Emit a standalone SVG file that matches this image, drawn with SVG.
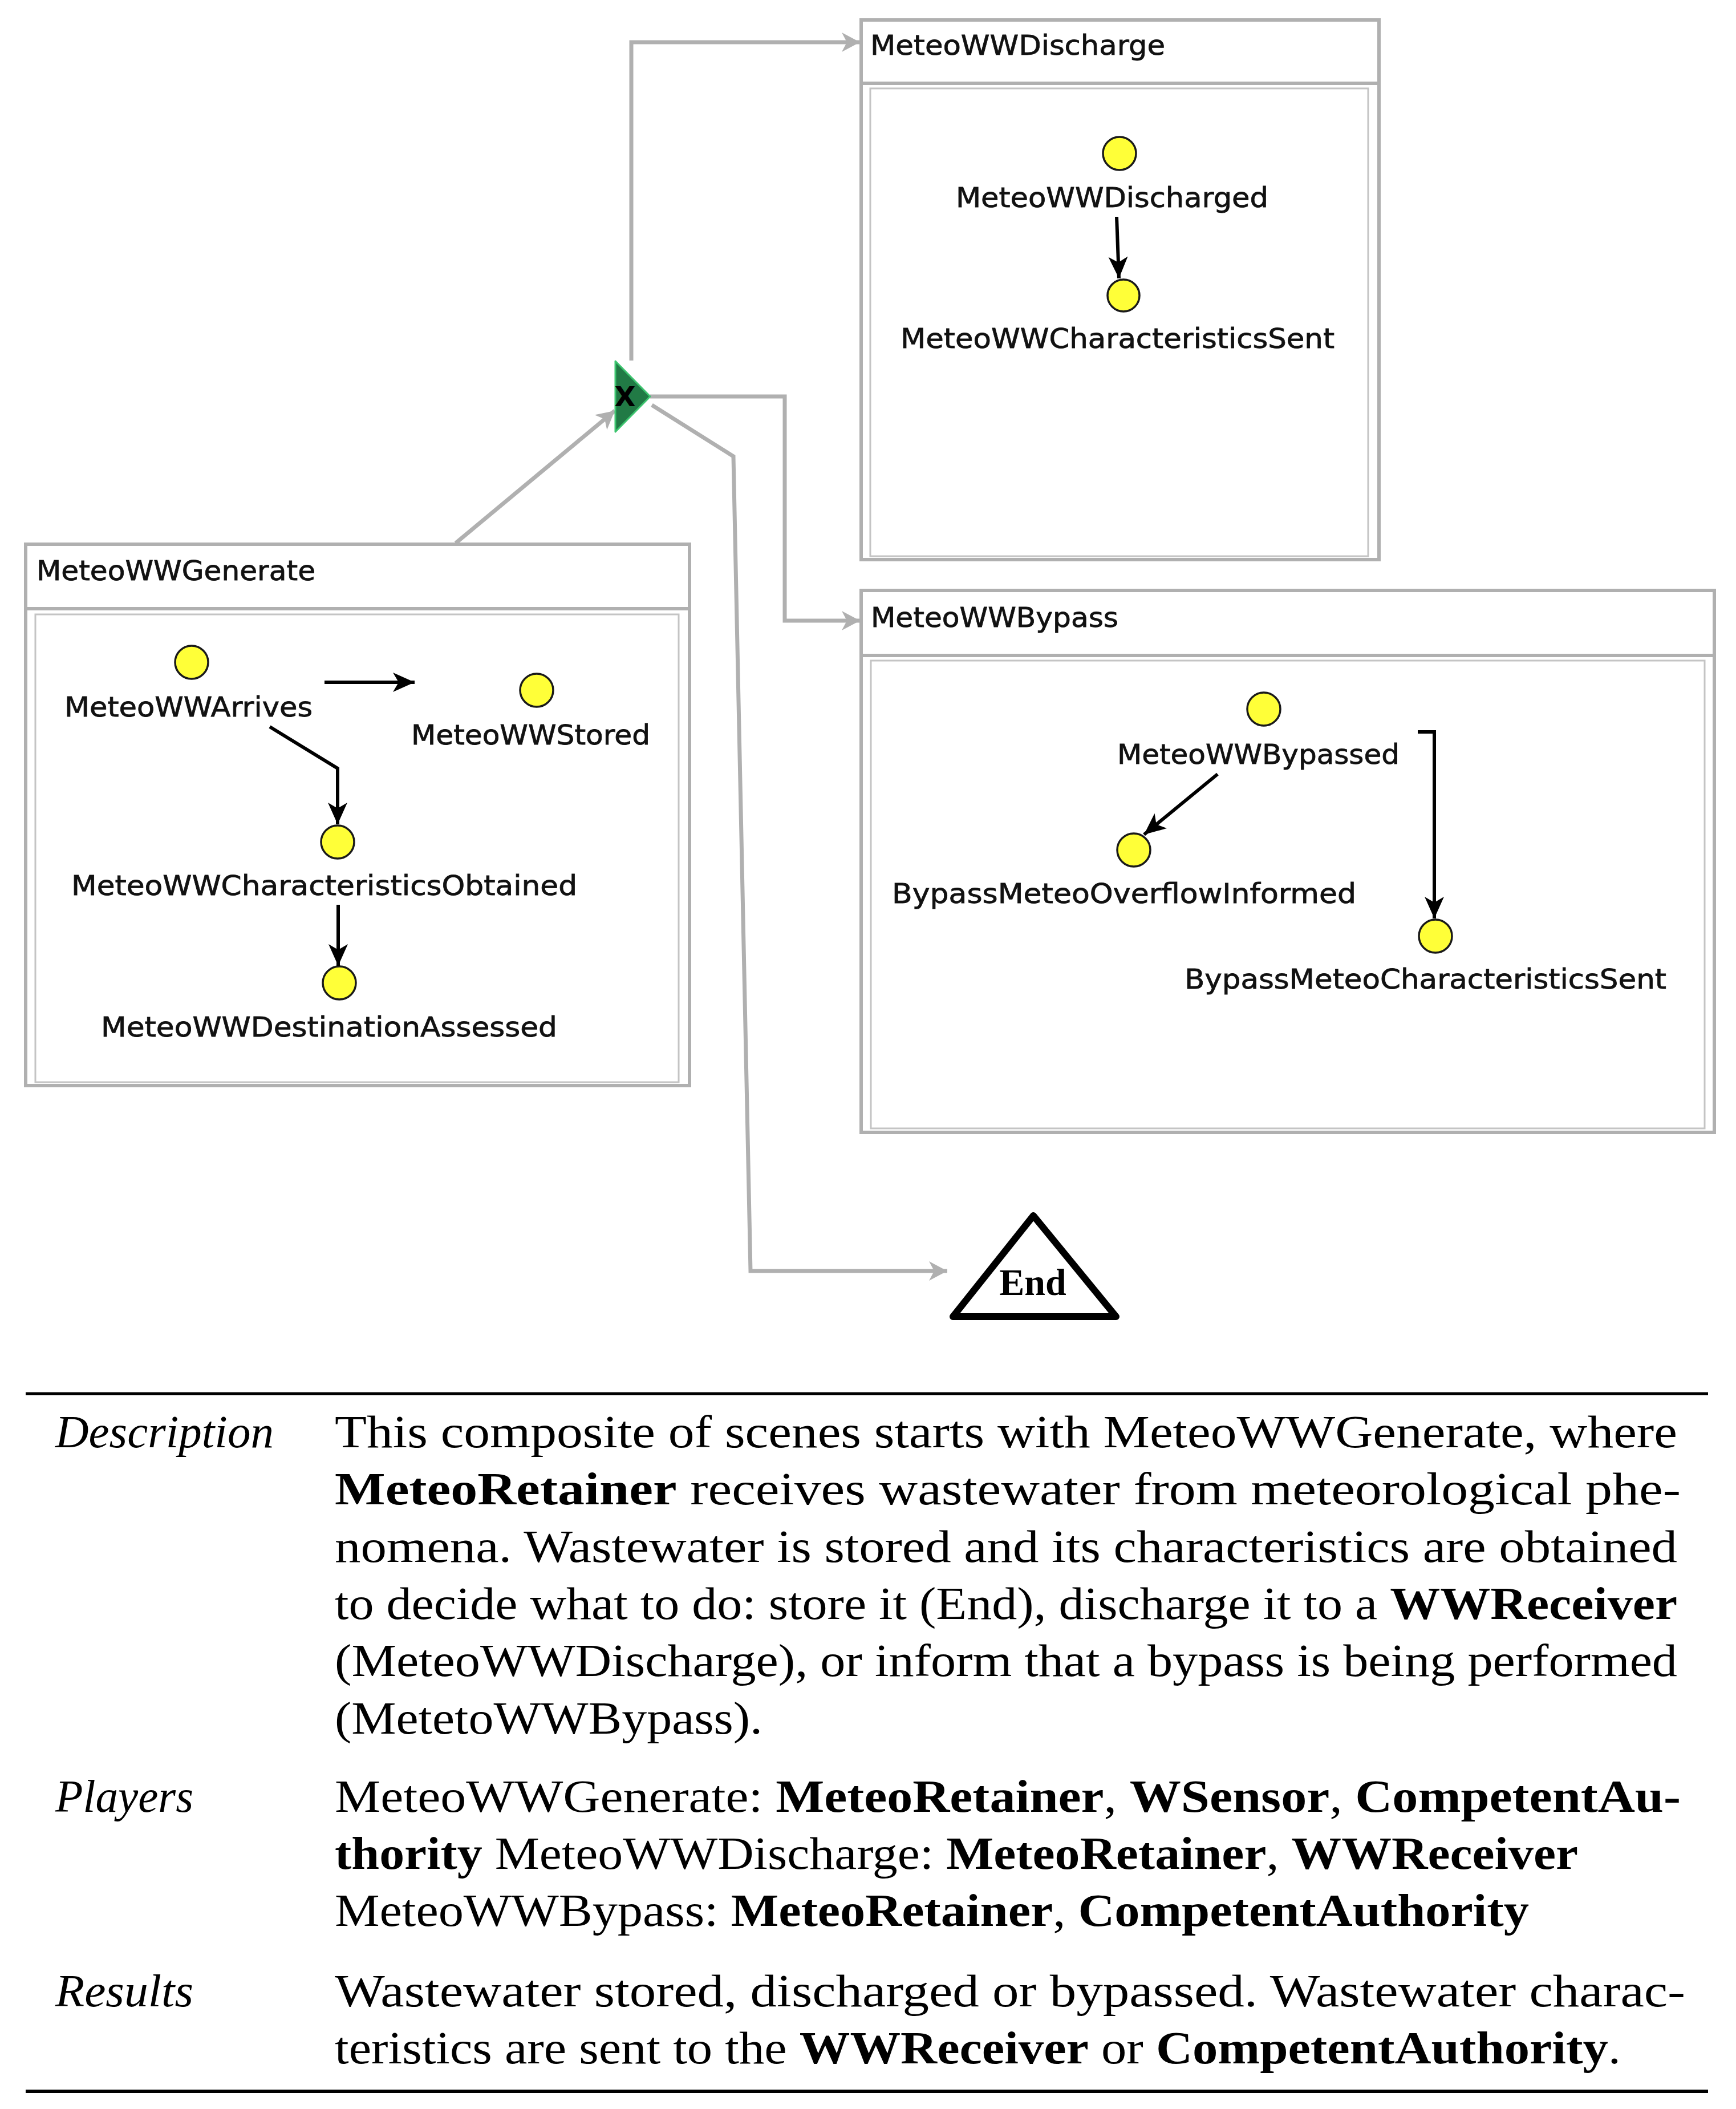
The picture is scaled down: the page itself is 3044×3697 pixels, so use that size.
<svg xmlns="http://www.w3.org/2000/svg" width="3044" height="3697" viewBox="0 0 3044 3697">
<style>
.outer{fill:#ffffff;stroke:#b0b0b0;stroke-width:6}
.sep{stroke:#b0b0b0;stroke-width:6}
.inner{fill:none;stroke:#c4c4c4;stroke-width:3}
.title{font-family:"DejaVu Sans",sans-serif;font-size:48px;fill:#111;stroke:#111;stroke-width:0.8}
.lbl{font-family:"DejaVu Sans",sans-serif;font-size:48px;fill:#111;stroke:#111;stroke-width:0.8}
.place{fill:#ffff38;stroke:#1a1a1a;stroke-width:3.5}
.garrow{fill:none;stroke:#b0b0b0;stroke-width:7;stroke-linejoin:miter}
.barrow{fill:none;stroke:#000;stroke-width:6}
.body{font-family:"Liberation Serif","Times New Roman",serif;font-size:80px;fill:#000}
.head{font-family:"Liberation Serif","Times New Roman",serif;font-size:80px;font-style:italic;fill:#000}
.b{font-weight:bold}
</style>
<defs>
<marker id="ga" markerUnits="userSpaceOnUse" markerWidth="38" markerHeight="36" refX="32" refY="17" orient="auto">
<path d="M0,0 L32,17 L0,34 L9,17 z" fill="#b0b0b0"/>
</marker>
<marker id="ba" markerUnits="userSpaceOnUse" markerWidth="42" markerHeight="36" refX="38" refY="17" orient="auto">
<path d="M0,0 L38,17 L0,34 L10,17 z" fill="#000"/>
</marker>
</defs>
<rect width="3044" height="3697" fill="#ffffff"/>

<g id="connectors">
<path class="garrow" d="M799,952 L1078,720" marker-end="url(#ga)"/>
<path class="garrow" d="M1107,632 V74 H1508" marker-end="url(#ga)"/>
<path class="garrow" d="M1140,695 H1376 V1088 H1508" marker-end="url(#ga)"/>
<path class="garrow" d="M1143,710 L1286,800 L1316,2228 H1661" marker-end="url(#ga)"/>
</g>

<g id="MeteoWWDischarge">
<rect class="outer" x="1510" y="35" width="908" height="946"/>
<line class="sep" x1="1510" y1="146" x2="2418" y2="146"/>
<rect class="inner" x="1526" y="155" width="873" height="820"/>
<text class="title" x="1526" y="96" textLength="517" lengthAdjust="spacingAndGlyphs">MeteoWWDischarge</text>
<g id="MeteoWWDischarged">
<circle class="place" cx="1963" cy="269" r="29"/>
<text class="lbl" x="1676" y="363" textLength="548" lengthAdjust="spacingAndGlyphs">MeteoWWDischarged</text>
</g>
<g id="MeteoWWCharacteristicsSent">
<circle class="place" cx="1970" cy="518" r="28"/>
<text class="lbl" x="1579" y="610" textLength="761" lengthAdjust="spacingAndGlyphs">MeteoWWCharacteristicsSent</text>
</g>
<path class="barrow" d="M1958,380 L1962,488" marker-end="url(#ba)"/>
</g>

<g id="MeteoWWGenerate">
<rect class="outer" x="45" y="954" width="1164" height="949"/>
<line class="sep" x1="45" y1="1067" x2="1209" y2="1067"/>
<rect class="inner" x="62" y="1077" width="1128" height="820"/>
<text class="title" x="64" y="1017" textLength="489" lengthAdjust="spacingAndGlyphs">MeteoWWGenerate</text>
<g id="MeteoWWArrives">
<circle class="place" cx="336" cy="1161" r="29"/>
<text class="lbl" x="113" y="1256" textLength="435" lengthAdjust="spacingAndGlyphs">MeteoWWArrives</text>
</g>
<g id="MeteoWWStored">
<circle class="place" cx="941" cy="1210" r="29"/>
<text class="lbl" x="721" y="1305" textLength="419" lengthAdjust="spacingAndGlyphs">MeteoWWStored</text>
</g>
<g id="MeteoWWCharacteristicsObtained">
<circle class="place" cx="592" cy="1476" r="29"/>
<text class="lbl" x="125" y="1569" textLength="887" lengthAdjust="spacingAndGlyphs">MeteoWWCharacteristicsObtained</text>
</g>
<g id="MeteoWWDestinationAssessed">
<circle class="place" cx="595" cy="1723" r="29"/>
<text class="lbl" x="177" y="1817" textLength="800" lengthAdjust="spacingAndGlyphs">MeteoWWDestinationAssessed</text>
</g>
<path class="barrow" d="M569,1196 H727" marker-end="url(#ba)"/>
<path class="barrow" d="M473,1274 L592,1347 V1445" marker-end="url(#ba)"/>
<path class="barrow" d="M593,1586 V1693" marker-end="url(#ba)"/>
</g>

<g id="MeteoWWBypass">
<rect class="outer" x="1510" y="1035" width="1496" height="950"/>
<line class="sep" x1="1510" y1="1149" x2="3006" y2="1149"/>
<rect class="inner" x="1527" y="1158" width="1462" height="820"/>
<text class="title" x="1527" y="1099" textLength="434" lengthAdjust="spacingAndGlyphs">MeteoWWBypass</text>
<g id="MeteoWWBypassed">
<circle class="place" cx="2216" cy="1243" r="29"/>
<text class="lbl" x="1959" y="1339" textLength="495" lengthAdjust="spacingAndGlyphs">MeteoWWBypassed</text>
</g>
<g id="BypassMeteoOverflowInformed">
<circle class="place" cx="1988" cy="1490" r="29"/>
<text class="lbl" x="1564" y="1583" textLength="814" lengthAdjust="spacingAndGlyphs">BypassMeteoOverflowInformed</text>
</g>
<g id="BypassMeteoCharacteristicsSent">
<circle class="place" cx="2517" cy="1641" r="29"/>
<text class="lbl" x="2077" y="1733" textLength="845" lengthAdjust="spacingAndGlyphs">BypassMeteoCharacteristicsSent</text>
</g>
<path class="barrow" d="M2135,1357 L2006,1463" marker-end="url(#ba)"/>
<path class="barrow" d="M2486,1283 H2515 V1610" marker-end="url(#ba)"/>
</g>

<g id="gateway">
<polygon points="1079,633 1140,695 1079,757" fill="#217a45" stroke="#3cc46e" stroke-width="3" stroke-linejoin="round"/>
<text x="1096" y="712" text-anchor="middle" font-family="DejaVu Sans,sans-serif" font-weight="bold" font-size="48" fill="#000">X</text>
</g>

<g id="End">
<polygon points="1812,2131 1671,2308 1957,2308" fill="#ffffff" stroke="#000" stroke-width="12" stroke-linejoin="round"/>
<text x="1811" y="2270" text-anchor="middle" font-family="Liberation Serif,serif" font-weight="bold" font-size="66" fill="#000">End</text>
</g>

<g id="table">
<line x1="45" y1="2443" x2="2995" y2="2443" stroke="#000" stroke-width="5"/>
<line x1="45" y1="3666" x2="2995" y2="3666" stroke="#000" stroke-width="6"/>
<text class="head" x="97" y="2537" textLength="383" lengthAdjust="spacingAndGlyphs">Description</text>
<text class="body" x="587" y="2537" textLength="2354" lengthAdjust="spacingAndGlyphs">This composite of scenes starts with MeteoWWGenerate, where</text>
<text class="body" x="587" y="2637" textLength="2360" lengthAdjust="spacingAndGlyphs"><tspan class="b">MeteoRetainer</tspan> receives wastewater from meteorological phe-</text>
<text class="body" x="587" y="2738" textLength="2354" lengthAdjust="spacingAndGlyphs">nomena. Wastewater is stored and its characteristics are obtained</text>
<text class="body" x="587" y="2838" textLength="2354" lengthAdjust="spacingAndGlyphs">to decide what to do: store it (End), discharge it to a <tspan class="b">WWReceiver</tspan></text>
<text class="body" x="587" y="2938" textLength="2354" lengthAdjust="spacingAndGlyphs">(MeteoWWDischarge), or inform that a bypass is being performed</text>
<text class="body" x="587" y="3039" textLength="750" lengthAdjust="spacingAndGlyphs">(MetetoWWBypass).</text>
<text class="head" x="97" y="3176" textLength="242" lengthAdjust="spacingAndGlyphs">Players</text>
<text class="body" x="587" y="3176" textLength="2360" lengthAdjust="spacingAndGlyphs">MeteoWWGenerate:  <tspan class="b">MeteoRetainer</tspan>, <tspan class="b">WSensor</tspan>, <tspan class="b">CompetentAu-</tspan></text>
<text class="body" x="587" y="3276" textLength="2180" lengthAdjust="spacingAndGlyphs"><tspan class="b">thority</tspan> MeteoWWDischarge: <tspan class="b">MeteoRetainer</tspan>, <tspan class="b">WWReceiver</tspan></text>
<text class="body" x="587" y="3376" textLength="2094" lengthAdjust="spacingAndGlyphs">MeteoWWBypass: <tspan class="b">MeteoRetainer</tspan>, <tspan class="b">CompetentAuthority</tspan></text>
<text class="head" x="97" y="3517" textLength="242" lengthAdjust="spacingAndGlyphs">Results</text>
<text class="body" x="587" y="3517" textLength="2368" lengthAdjust="spacingAndGlyphs">Wastewater stored, discharged or bypassed. Wastewater charac-</text>
<text class="body" x="587" y="3617" textLength="2255" lengthAdjust="spacingAndGlyphs">teristics are sent to the <tspan class="b">WWReceiver</tspan> or <tspan class="b">CompetentAuthority</tspan>.</text>
</g>
</svg>
